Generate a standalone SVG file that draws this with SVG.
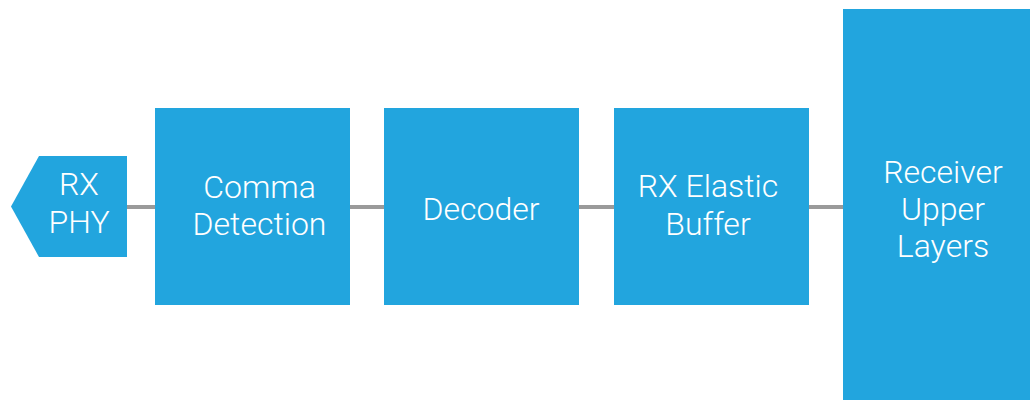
<svg xmlns="http://www.w3.org/2000/svg" width="1030" height="400" viewBox="0 0 1030 400">
<style>
.box{fill:#22A5DE;}
.lbl{fill:#ffffff;font-family:Roboto,"Liberation Sans",sans-serif;font-weight:300;font-size:32px;text-anchor:middle;}
.conn{stroke:#9A9A9A;stroke-width:4;fill:none;}
</style>
<rect width="1030" height="400" fill="#ffffff"/>
<g id="connectors">
<line class="conn" x1="127" y1="207" x2="155" y2="207"/>
<line class="conn" x1="350" y1="207" x2="384" y2="207"/>
<line class="conn" x1="579" y1="207" x2="614" y2="207"/>
<line class="conn" x1="809" y1="207" x2="843" y2="207"/>
</g>
<g id="rx-phy">
<polygon class="box" points="39,156 127,156 127,257 39,257 11,206.5"/>
<text class="lbl" x="79" y="195">RX</text>
<text class="lbl" x="79" y="233">PHY</text>
</g>
<g id="comma-detection">
<rect class="box" x="155" y="108" width="195" height="197"/>
<text class="lbl" x="259.5" y="198">Comma</text>
<text class="lbl" x="259.5" y="235">Detection</text>
</g>
<g id="decoder">
<rect class="box" x="384" y="108" width="195" height="197"/>
<text class="lbl" x="481" y="220">Decoder</text>
</g>
<g id="rx-elastic-buffer">
<rect class="box" x="614" y="108" width="195" height="197"/>
<text class="lbl" x="708" y="197">RX Elastic</text>
<text class="lbl" x="708" y="235">Buffer</text>
</g>
<g id="receiver-upper-layers">
<rect class="box" x="843" y="9" width="187" height="391"/>
<text class="lbl" x="943" y="183">Receiver</text>
<text class="lbl" x="943" y="220">Upper</text>
<text class="lbl" x="943" y="257">Layers</text>
</g>
</svg>
